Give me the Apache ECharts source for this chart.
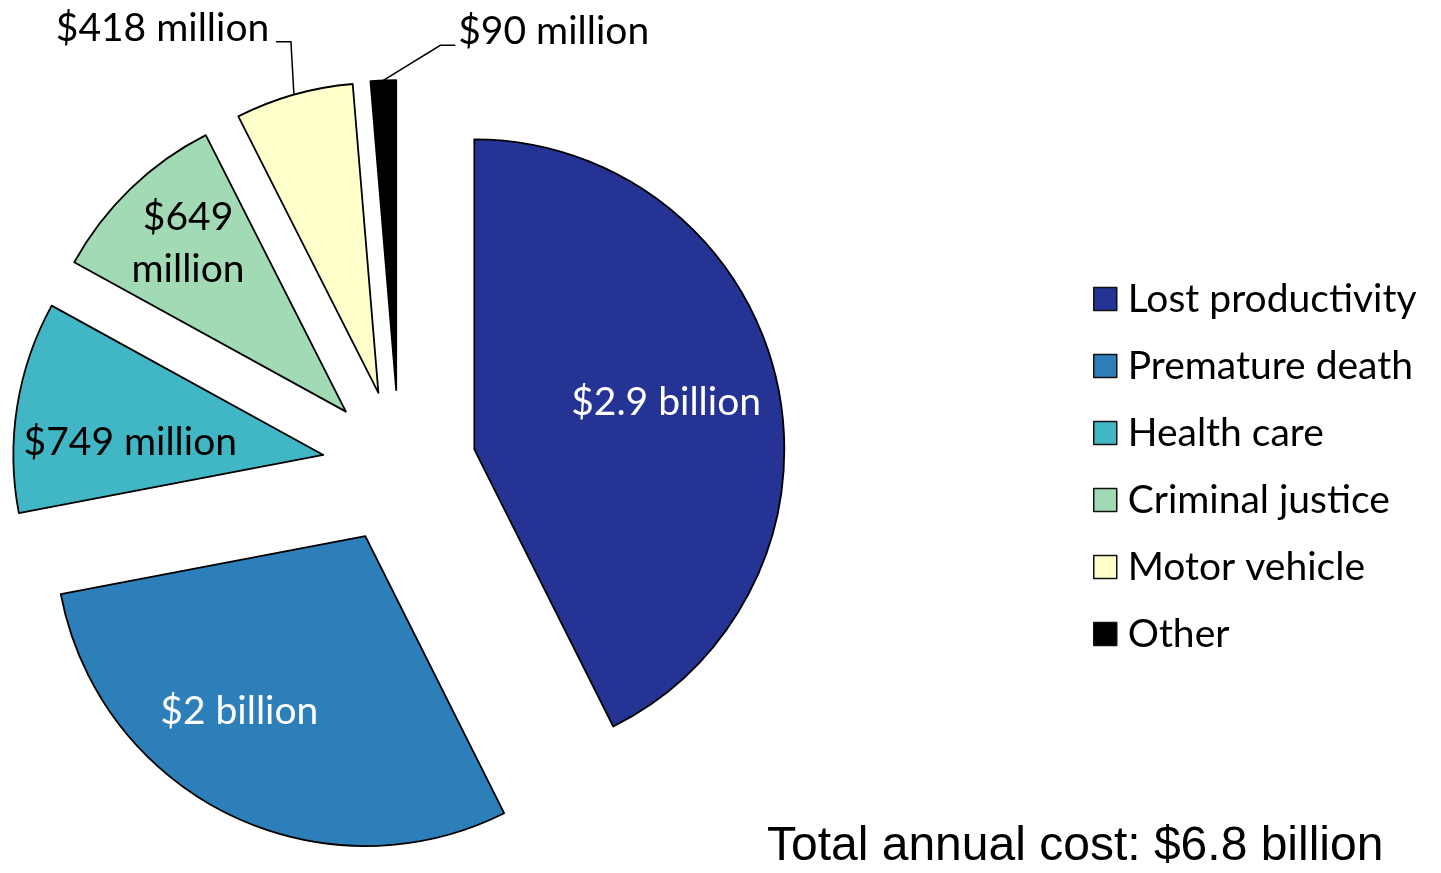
<!DOCTYPE html>
<html>
<head>
<meta charset="utf-8">
<script src="https://cdn.jsdelivr.net/npm/echarts@6/dist/echarts.min.js"></script>
<style>
  html, body { margin: 0; padding: 0; background: #fff; }
  #chart { width: 1441px; height: 873px; }
</style>
</head>
<body>
<div id="chart"></div>
<script>
// Annual cost components, in millions of dollars
const categories = ['Lost productivity', 'Premature death', 'Health care', 'Criminal justice', 'Motor vehicle', 'Other'];
const costs = [2900, 2000, 749, 649, 418, 90];
const valueLabels = ['$2.9 billion', '$2 billion', '$749 million', '$649\nmillion', '$418 million', '$90 million'];
const colors = ['#253494', '#2c7fb8', '#41b6c4', '#a1dab4', '#ffffcc', '#000000'];
const totalLabel = 'Total annual cost: $6.8 billion';

const chart = echarts.init(document.getElementById('chart'), null, { renderer: 'canvas' });

const font = 'Lato';
const labelColor = ['#fff', '#fff', '#000', '#000', '#000', '#000'];
const outside = [false, false, false, false, true, true];

// Per-slice label nudges; `line` bends the leader: [dx1, dy1, dx2] from the arc point
const labelNudges = [
  { dx: 38, dy: -11 },
  { dx: -56, dy: 34 },
  { dx: -37, dy: 12 },
  { dx: -48, dy: -55 },
  { dx: 9, dy: -18, line: [-3, -53, -15] },
  { dx: 97, dy: 1, align: 'left', line: [57, -35, 15] }
];

const data = categories.map((name, i) => ({
  name,
  value: costs[i],
  selected: true,
  itemStyle: { color: colors[i] },
  label: {
    formatter: valueLabels[i],
    color: labelColor[i],
    position: outside[i] ? 'outside' : 'inside'
  },
  labelLine: { show: outside[i] }
}));

const option = {
  animation: false,
  legend: {
    orient: 'vertical',
    left: 1088,
    top: 274,
    itemWidth: 23,
    itemHeight: 23,
    itemGap: 27,
    icon: 'rect',
    selectedMode: false,
    itemStyle: { borderColor: '#111', borderWidth: 1.5 },
    textStyle: { fontFamily: font, fontSize: 39, color: '#000', lineHeight: 40, padding: [0, 0, 0, 6] },
    data: categories
  },
  graphic: [{
    type: 'text',
    left: 767,
    top: 823,
    style: { text: totalLabel, fontFamily: 'Liberation Sans', fontSize: 48, fill: '#000' }
  }],
  series: [{
    type: 'pie',
    center: [399.4, 467],
    radius: 310,
    startAngle: 90,
    clockwise: true,
    selectedMode: 'multiple',
    selectedOffset: 77,
    avoidLabelOverlap: false,
    itemStyle: { borderColor: '#000', borderWidth: 1.8 },
    select: { itemStyle: { borderColor: '#000', borderWidth: 1.8 } },
    emphasis: { disabled: true },
    label: { fontFamily: font, fontSize: 39, lineHeight: 52, align: 'center' },
    labelLine: { lineStyle: { color: '#000', width: 1.5 }, length: 50, length2: 15 },
    labelLayout: function (p) {
      const n = labelNudges[p.dataIndex];
      const out = { dx: n.dx, dy: n.dy };
      if (n.align) out.align = n.align;
      if (n.line && p.labelLinePoints) {
        const p0 = p.labelLinePoints[0];
        const p1 = [p0[0] + n.line[0], p0[1] + n.line[1]];
        const p2 = [p1[0] + n.line[2], p1[1]];
        out.labelLinePoints = [p0, p1, p2];
      }
      return out;
    },
    data
  }]
};
chart.setOption(option);
</script>
</body>
</html>
